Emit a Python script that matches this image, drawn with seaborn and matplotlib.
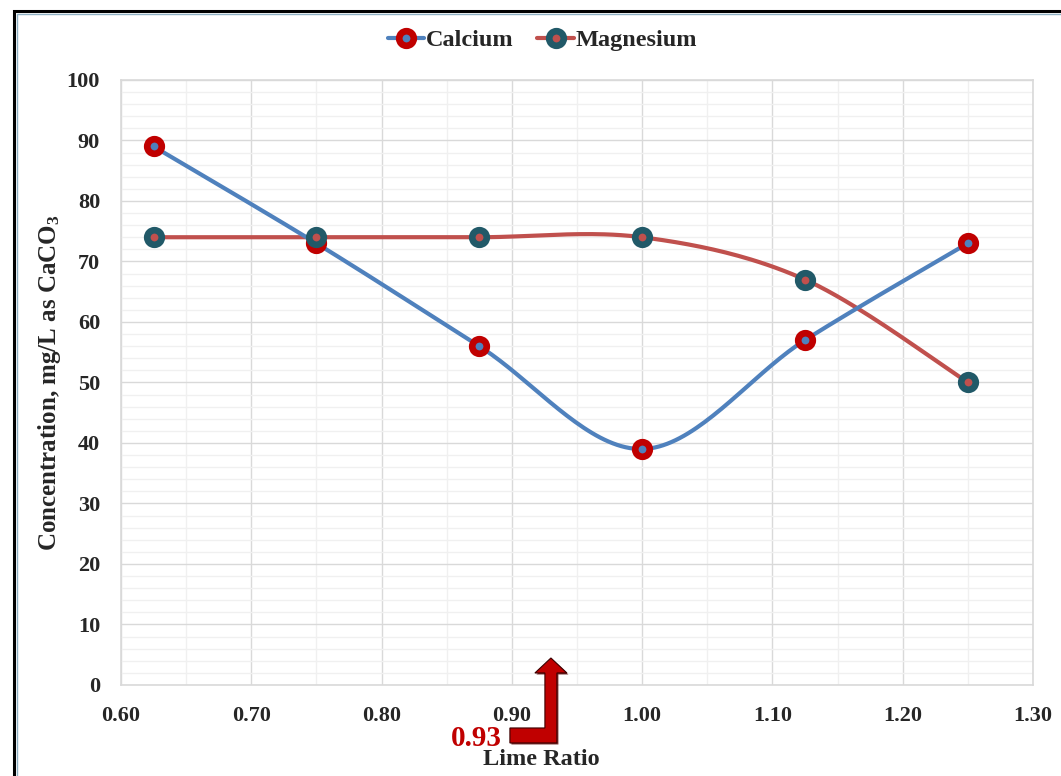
import numpy as np
import pandas as pd
import seaborn as sns
import matplotlib
matplotlib.use("Agg")
import matplotlib.pyplot as plt
import matplotlib.transforms as mtransforms
from matplotlib.lines import Line2D
from matplotlib.patches import Polygon, Rectangle
from matplotlib.ticker import MultipleLocator

# Data
lime_ratio = [0.625, 0.75, 0.875, 1.0, 1.125, 1.25]
calcium = [89, 73, 56, 39, 57, 73]
magnesium = [74, 74, 74, 74, 67, 50]
optimum_ratio = 0.93

x_ticks = [0.60, 0.70, 0.80, 0.90, 1.00, 1.10, 1.20, 1.30]
y_ticks = [0, 10, 20, 30, 40, 50, 60, 70, 80, 90, 100]

BLUE = "#4F81BD"
RED = "#C0504D"
DARK_RED = "#C00000"
TEAL = "#215968"

sns.set_theme(style="white")
plt.rcParams["font.family"] = ["Liberation Serif", "DejaVu Serif"]
plt.rcParams["font.weight"] = "bold"
plt.rcParams["mathtext.fontset"] = "custom"
plt.rcParams["mathtext.rm"] = "Liberation Serif:bold"
plt.rcParams["mathtext.it"] = "Liberation Serif:bold"
plt.rcParams["mathtext.bf"] = "Liberation Serif:bold"


def smooth_curve(xs, ys, n=40):
    """Catmull-Rom style smoothing through every point (like a smoothed line chart)."""
    xs = np.asarray(xs, float)
    ys = np.asarray(ys, float)
    px = np.concatenate([[xs[0]], xs, [xs[-1]]])
    py = np.concatenate([[ys[0]], ys, [ys[-1]]])
    out_x, out_y = [], []
    for i in range(1, len(px) - 2):
        p0, p1, p2, p3 = (np.array([px[j], py[j]]) for j in range(i - 1, i + 3))
        c1 = p1 + (p2 - p0) / 6.0
        c2 = p2 - (p3 - p1) / 6.0
        t = np.linspace(0, 1, n)[:, None]
        seg = ((1 - t) ** 3) * p1 + 3 * ((1 - t) ** 2) * t * c1 + 3 * (1 - t) * t ** 2 * c2 + t ** 3 * p2
        if i > 1:
            seg = seg[1:]
        out_x.extend(seg[:, 0])
        out_y.extend(seg[:, 1])
    return np.array(out_x), np.array(out_y)


df = pd.DataFrame({"ratio": lime_ratio, "Calcium": calcium, "Magnesium": magnesium})

fig = plt.figure(figsize=(10.61, 7.76), dpi=100)
ax = fig.add_axes([0.114, 0.1173, 0.8596, 0.7797])

# grid
ax.set_xlim(0.60, 1.30)
ax.set_ylim(0, 100)
ax.xaxis.set_major_locator(MultipleLocator(0.10))
ax.xaxis.set_minor_locator(MultipleLocator(0.05))
ax.yaxis.set_major_locator(MultipleLocator(10))
ax.yaxis.set_minor_locator(MultipleLocator(2))
ax.grid(which="major", color="#D9D9D9", linewidth=1.0)
ax.grid(which="minor", color="#F0F0F0", linewidth=1.0)
ax.set_axisbelow(True)
for s in ax.spines.values():
    s.set_color("#D9D9D9")
    s.set_linewidth(1.2)
ax.tick_params(which="both", length=0)

# smoothed lines
cx, cy = smooth_curve(df["ratio"], df["Calcium"])
mx, my = smooth_curve(df["ratio"], df["Magnesium"])
sns.lineplot(x=mx, y=my, sort=False, estimator=None, color=RED, linewidth=3.0, ax=ax, legend=False)
sns.lineplot(x=cx, y=cy, sort=False, estimator=None, color=BLUE, linewidth=3.0, ax=ax, legend=False)

# markers
sns.scatterplot(data=df, x="ratio", y="Calcium", s=110, color=BLUE, edgecolor=DARK_RED,
                linewidth=4.8, ax=ax, legend=False, zorder=5)
sns.scatterplot(data=df, x="ratio", y="Magnesium", s=110, color=RED, edgecolor=TEAL,
                linewidth=4.8, ax=ax, legend=False, zorder=5)

ax.set_xticks(x_ticks)
ax.set_xticklabels([f"{v:.2f}" for v in x_ticks], fontsize=16, fontweight="bold")
ax.set_yticks(y_ticks)
ax.set_yticklabels([str(v) for v in y_ticks], fontsize=16, fontweight="bold")
ax.tick_params(axis="x", pad=15)
ax.tick_params(axis="y", pad=15)

ax.set_xlabel("Lime Ratio", fontsize=17.5, fontweight="bold")
ax.xaxis.set_label_coords((541 - 121) / 912, -0.105)
ax.set_ylabel("Concentration, mg/L as CaCO$_3$", fontsize=18, fontweight="bold")
ax.yaxis.set_label_coords(-0.064, 0.5)

# legend
handles = [
    Line2D([], [], color=BLUE, linewidth=3.0, marker="o", markersize=10.5,
           markerfacecolor=BLUE, markeredgecolor=DARK_RED, markeredgewidth=4.8),
    Line2D([], [], color=RED, linewidth=3.0, marker="o", markersize=10.5,
           markerfacecolor=RED, markeredgecolor=TEAL, markeredgewidth=4.8),
]
fig.legend(handles, ["Calcium", "Magnesium"], loc="center", bbox_to_anchor=(0.511, 0.948),
           ncol=2, frameon=False, prop={"family": "Liberation Serif", "weight": "bold", "size": 17.5},
           handlelength=1.5, handletextpad=0.05, columnspacing=1.0)

# bent arrow marking the optimum lime ratio
anchor = mtransforms.ScaledTranslation(optimum_ratio, 0, ax.get_xaxis_transform())
arrow_trans = fig.dpi_scale_trans + anchor
px_pts = np.array([(0, 27), (16, 12), (6, 12), (6, -58), (-41, -58), (-41, -43),
                   (-6, -43), (-6, 12), (-16, 12)], float) / 100.0
shadow = Polygon(px_pts + np.array([0.015, -0.015]), closed=True, transform=arrow_trans,
                 facecolor="#5a0000", edgecolor="none", clip_on=False, zorder=6, alpha=0.8)
arrow = Polygon(px_pts, closed=True, transform=arrow_trans, facecolor=DARK_RED,
                edgecolor="#3a0000", linewidth=0.8, clip_on=False, zorder=7)
ax.add_patch(shadow)
ax.add_patch(arrow)
ax.text(-0.49, -0.54, f"{optimum_ratio:.2f}", transform=arrow_trans, color=DARK_RED,
        fontsize=21, fontweight="bold", ha="right", va="center", zorder=8)

# outer frame
fig.patches.append(Rectangle((14 / 1061, -0.05), 1.2, (776 - 11) / 776 + 0.05,
                             transform=fig.transFigure, fill=False, edgecolor="black",
                             linewidth=2.2, zorder=0))
fig.patches.append(Rectangle((16.5 / 1061, -0.05), 1.2, (776 - 13.5) / 776 + 0.05,
                             transform=fig.transFigure, fill=False, edgecolor="#8FB1C4",
                             linewidth=1.0, zorder=0))

fig.savefig("out.png", dpi=100)
